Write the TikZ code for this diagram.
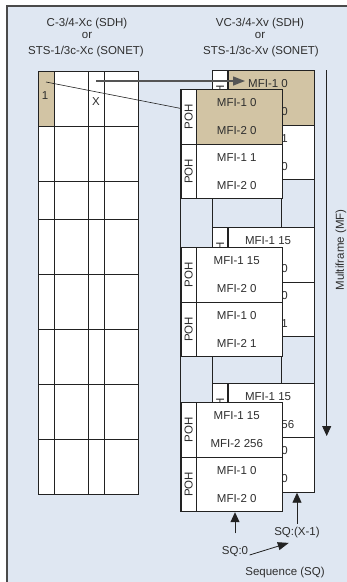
\documentclass[tikz,border=0pt]{standalone}
\usepackage{fontspec}
\setmainfont{Liberation Sans}
\usepackage{graphicx}
\usetikzlibrary{arrows.meta,calc}
\definecolor{bgblue}{HTML}{DFE7F2}
\definecolor{tanc}{HTML}{D2C4A4}
\definecolor{ink}{HTML}{222222}
\definecolor{txt}{HTML}{2E2E2E}
\definecolor{frameg}{HTML}{4A4A4A}
\definecolor{arrg}{HTML}{555555}
\newcommand{\ftxt}[2]{#1\hspace*{5pt}\\#2\hspace*{5pt}}
\newcommand{\btxt}[2]{#1\hspace*{7pt}\\#2\hspace*{7pt}}
\begin{document}
\begin{tikzpicture}[x=1pt,y=-1pt,
  every node/.style={font=\fontsize{11.5}{13}\selectfont, text=txt},
  frame/.style={draw=frameg, line width=1.3pt},
  gridline/.style={draw=ink, line width=0.8pt},
  boxline/.style={draw=ink, line width=0.8pt},
  pohbox/.style={draw=ink, line width=0.8pt, fill=white, minimum width=15.3pt, minimum height=54.7pt, inner sep=0pt, anchor=north west},
  mfibox/.style={draw=ink, line width=0.8pt, fill=white, minimum width=85.7pt, minimum height=54.7pt, inner sep=0pt, anchor=north west, align=center, font=\fontsize{11.5}{28}\selectfont},
  hdr/.style={anchor=base},
  arr/.style={draw=ink, line width=0.9pt, -{Triangle[width=9pt,length=10pt]}},
  thin/.style={draw=ink, line width=0.6pt}
]
\useasboundingbox (0,0) rectangle (347,582);
\fill[bgblue] (7,6) rectangle (347,582);
\draw[frame] (7,582) -- (7,6) -- (347,6);

% headers
\node[hdr] (hl1) at (87,26) {C-3/4-Xc (SDH)};
\node[hdr] (hl2) at (87,38) {or};
\node[hdr] (hl3) at (86,54) {STS-1/3c-Xc (SONET)};
\node[hdr] (hr1) at (260,26) {VC-3/4-Xv (SDH)};
\node[hdr] (hr2) at (260,38) {or};
\node[hdr] (hr3) at (261,54) {STS-1/3c-Xv (SONET)};

% left grid
\fill[white] (38.5,71) rectangle (138.5,494);
\fill[tanc] (38.5,71) rectangle (54.5,126);
\foreach \x in {54.5,88.5,104.5} \draw[gridline] (\x,71) -- (\x,494);
\foreach \y in {126,181,219,274,329,384,439} \draw[gridline] (38.5,\y) -- (138.5,\y);
\draw[gridline] (38.5,71) rectangle (138.5,494);
\node (one) at (45,96) {1};
\node (ex) at (96,102) {X};

% continuous lines
\draw[boxline] (180.7,89) -- (180.7,512);
\draw[boxline] (281.7,89) -- (281.7,512);
\draw[boxline] (212,70) -- (212,492.5);
\draw[boxline] (314,70) -- (314,492.5);

% back member (SQ:X-1)
\node[pohbox] (b1P1) at (212,70) {\rotatebox{90}{POH}};
\node[mfibox, fill=tanc] (b1M1) at (228.3,70) {\btxt{MFI-1 0}{MFI-2 0}};
\node[pohbox] (b1P2) at (212,124.7) {\rotatebox{90}{POH}};
\node[mfibox] (b1M2) at (228.3,124.7) {\btxt{MFI-1 1}{MFI-2 0}};
\node[pohbox] (b2P1) at (212,227) {\rotatebox{90}{POH}};
\node[mfibox] (b2M1) at (228.3,227) {\btxt{MFI-1 15}{MFI-2 0}};
\node[pohbox] (b2P2) at (212,281.7) {\rotatebox{90}{POH}};
\node[mfibox] (b2M2) at (228.3,281.7) {\btxt{MFI-1 0}{MFI-2 1}};
\node[pohbox] (b3P1) at (212,382.5) {\rotatebox{90}{POH}};
\node[mfibox] (b3M1) at (228.3,382.5) {\btxt{MFI-1 15}{MFI-2 256}};
\node[pohbox] (b3P2) at (212,437.2) {\rotatebox{90}{POH}};
\node[mfibox] (b3M2) at (228.3,437.2) {\btxt{MFI-1 0}{MFI-2 0}};

% horizontal arrow from column X
\coordinate (xs) at (96,81);
\coordinate (xe) at (245,81);
\draw[draw=arrg, line width=1.4pt, -{Triangle[width=9pt,length=12pt]}] (xs) -- (xe);

% front member (SQ:0)
\node[pohbox] (f1P1) at (180.7,89) {\rotatebox{90}{POH}};
\node[mfibox, fill=tanc] (f1M1) at (196,89) {\ftxt{MFI-1 0}{MFI-2 0}};
\node[pohbox] (f1P2) at (180.7,143.7) {\rotatebox{90}{POH}};
\node[mfibox] (f1M2) at (196,143.7) {\ftxt{MFI-1 1}{MFI-2 0}};
\node[pohbox] (f2P1) at (180.7,247) {\rotatebox{90}{POH}};
\node[mfibox] (f2M1) at (196,247) {\ftxt{MFI-1 15}{MFI-2 0}};
\node[pohbox] (f2P2) at (180.7,301.7) {\rotatebox{90}{POH}};
\node[mfibox] (f2M2) at (196,301.7) {\ftxt{MFI-1 0}{MFI-2 1}};
\node[pohbox] (f3P1) at (180.7,402) {\rotatebox{90}{POH}};
\node[mfibox] (f3M1) at (196,402) {\ftxt{MFI-1 15}{MFI-2 256}};
\node[pohbox] (f3P2) at (180.7,456.7) {\rotatebox{90}{POH}};
\node[mfibox] (f3M2) at (196,456.7) {\ftxt{MFI-1 0}{MFI-2 0}};

% diagonal line from column 1
\coordinate (ds) at (46,82);
\draw[thin] (ds) -- ($(f1P1.north west)!0.35!(f1P1.south west)$);

% multiframe arrow
\coordinate (mft) at (326.7,70);
\coordinate (mfb) at (326.7,436);
\draw[arr] (mft) -- (mfb);
\node[rotate=90] (mfl) at (341,250) {Multiframe (MF)};

% sequence
\node (sq0) at (235,552) {SQ:0};
\node (sqx) at (297,533) {SQ:(X-1)};
\node (seq) at (285,573) {Sequence (SQ)};
\draw[arr] ($(sq0.north)+(0,-10)$) -- (sq0.north |- f3M2.south);
\draw[arr] (sqx.north) -- (sqx.north |- b3M2.south);
\draw[thin, line width=0.8pt, -{Triangle[width=8pt,length=11pt]}] ($(sq0.east)+(-2,3)$) -- ($(sqx.south west)+(18,1)$);
\end{tikzpicture}
\end{document}
